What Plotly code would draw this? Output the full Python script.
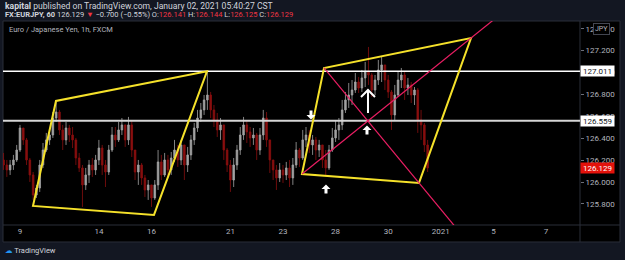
import plotly.graph_objects as go

# ---------------- data ----------------
# 3-hour candles, x in trading days from Dec 9 00:00
x_start = -0.625
x_step = 0.125

closes = [126.156, 126.111, 126.156, 126.202, 126.293, 126.494, 126.385, 126.202, 126.065, 125.882,
          125.946, 126.156, 126.293, 126.385, 126.430, 126.585, 126.640, 126.476, 126.385, 126.494,
          126.430, 126.385, 126.220, 126.129, 125.974, 126.065, 126.156, 126.111, 126.202, 126.311,
          126.156, 126.092, 126.293, 126.430, 126.385, 126.476, 126.522, 126.385, 126.522, 126.293,
          126.092, 126.156, 126.038, 125.928, 125.974, 125.855, 125.974, 126.184, 126.065, 126.202,
          126.111, 126.220, 126.293, 126.202, 126.339, 126.156, 126.248, 126.385, 126.494, 126.585,
          126.659, 126.750, 126.795, 126.659, 126.567, 126.476, 126.522, 126.293, 126.156, 126.019,
          126.156, 126.293, 126.430, 126.522, 126.458, 126.403, 126.430, 126.293, 126.430, 126.585,
          126.385, 126.202, 126.111, 126.038, 126.111, 126.065, 126.129, 126.038, 126.156, 126.293,
          126.220, 126.385, 126.430, 126.339, 126.385, 126.293, 126.339, 126.202, 126.129, 126.293,
          126.403, 126.476, 126.522, 126.659, 126.750, 126.795, 126.841, 126.914, 126.859, 126.951,
          127.006, 126.978, 126.841, 126.932, 127.024, 127.070, 126.932, 126.823, 126.613, 126.795,
          126.932, 126.978, 126.859, 126.887, 126.795, 126.841, 126.567, 126.522, 126.339, 126.129]

highs = [126.266, 126.202, 126.202, 126.248, 126.339, 126.522, 126.476, 126.403, 126.220, 126.092,
         125.974, 126.202, 126.357, 126.449, 126.494, 126.640, 126.732, 126.659, 126.522, 126.549,
         126.522, 126.503, 126.403, 126.266, 126.156, 126.129, 126.202, 126.220, 126.248, 126.385,
         126.339, 126.202, 126.339, 126.503, 126.503, 126.549, 126.585, 126.503, 126.595, 126.567,
         126.248, 126.202, 126.174, 126.065, 126.019, 125.974, 126.019, 126.293, 126.248, 126.266,
         126.248, 126.275, 126.385, 126.339, 126.385, 126.339, 126.321, 126.430, 126.540, 126.659,
         126.722, 126.795, 127.006, 126.823, 126.704, 126.631, 126.585, 126.522, 126.311, 126.202,
         126.220, 126.339, 126.503, 126.595, 126.567, 126.503, 126.494, 126.449, 126.494, 126.659,
         126.640, 126.357, 126.202, 126.156, 126.174, 126.156, 126.184, 126.202, 126.220, 126.366,
         126.311, 126.476, 126.503, 126.476, 126.430, 126.412, 126.385, 126.339, 126.293, 126.339,
         126.494, 126.567, 126.585, 126.750, 126.823, 126.905, 126.932, 126.996, 126.960, 127.024,
         127.097, 127.234, 126.996, 126.978, 127.115, 127.142, 127.070, 126.978, 126.841, 126.887,
         127.006, 127.042, 127.006, 126.951, 126.914, 126.868, 126.859, 126.659, 126.540, 126.385]

lows = [126.111, 126.047, 126.065, 126.111, 126.184, 126.275, 126.339, 126.156, 126.001, 125.837,
        125.855, 125.910, 126.129, 126.275, 126.339, 126.403, 126.549, 126.430, 126.293, 126.339,
        126.366, 126.311, 126.156, 126.092, 125.773, 125.928, 125.992, 126.047, 126.065, 126.156,
        126.065, 125.955, 126.065, 126.275, 126.321, 126.366, 126.430, 126.321, 126.339, 126.229,
        126.019, 125.974, 125.974, 125.864, 125.837, 125.773, 125.837, 125.928, 126.019, 126.047,
        126.047, 126.065, 126.184, 126.138, 126.156, 126.019, 126.092, 126.202, 126.339, 126.458,
        126.549, 126.613, 126.659, 126.585, 126.503, 126.412, 126.385, 126.202, 126.092, 125.910,
        125.955, 126.111, 126.248, 126.385, 126.357, 126.321, 126.339, 126.202, 126.248, 126.385,
        126.321, 126.083, 126.019, 125.928, 126.001, 125.992, 126.019, 125.955, 125.974, 126.129,
        126.138, 126.202, 126.321, 126.266, 126.248, 126.202, 126.229, 126.129, 126.065, 126.111,
        126.275, 126.366, 126.385, 126.476, 126.631, 126.677, 126.704, 126.814, 126.814, 126.823,
        126.868, 126.887, 126.777, 126.795, 126.887, 126.914, 126.841, 126.768, 126.476, 126.567,
        126.777, 126.859, 126.750, 126.795, 126.722, 126.704, 126.449, 126.385, 126.275, 126.092]

first_open = 126.202

# x-axis labels (trading-day positions)
date_pos = [0, 3, 5, 8, 10, 12, 14, 16, 18, 20]
date_labels = ["9", "14", "16", "21", "23", "28", "30", "2021", "5", "7"]

price_ticks = [125.8, 126.0, 126.2, 126.4, 126.6, 126.8, 127.0, 127.2, 127.4]

# horizontal levels
level_hi = 127.011
level_mid = 126.559
last_price = 126.129

# drawings (time in trading days, price)
para1_t = [0.494, 1.369, 7.110, 5.095]
para1_p = [125.782, 126.741, 127.011, 125.700]
para2_t = [10.722, 11.559, 17.148, 15.171]
para2_p = [126.074, 127.042, 127.316, 125.992]
rayA_t = [11.559, 18.85]
rayA_p = [127.042, 124.923]
rayB_t = [10.722, 21.31]
rayB_p = [126.074, 128.12]
arrows_up = [(13.194, 126.476), (11.635, 125.937)]
arrows_down = [(11.065, 126.613)]
big_arrow_tip = (13.232, 126.841)

# ---------------- figure ----------------
times = [x_start + x_step * i for i in range(len(closes))]
opens = [first_open] + closes[:-1]

UP = "#a3a3a3"
DOWN = "#8a0f0f"
FONT = "Roboto"
AXC = "#b2b5be"
BORDER = "#2a2e39"

fig = go.Figure()
fig.add_trace(go.Candlestick(
    x=times, open=opens, high=highs, low=lows, close=closes,
    increasing=dict(line=dict(color=UP, width=0.8), fillcolor=UP),
    decreasing=dict(line=dict(color=DOWN, width=0.8), fillcolor=DOWN),
    whiskerwidth=0, showlegend=False, hoverinfo="skip",
))

shapes = []
# black background of the whole chart pane incl. axes
shapes.append(dict(type="rect", xref="paper", yref="paper", x0=0, x1=1.0693, y0=-0.0833, y1=1,
                   fillcolor="#000000", line=dict(color=BORDER, width=1), layer="below"))
# separators
shapes.append(dict(type="line", xref="paper", yref="paper", x0=1, x1=1, y0=-0.0833, y1=1,
                   line=dict(color=BORDER, width=1)))
shapes.append(dict(type="line", xref="paper", yref="paper", x0=0, x1=1.0693, y0=0, y1=0,
                   line=dict(color=BORDER, width=1)))
# horizontal levels
shapes.append(dict(type="line", xref="paper", yref="y", x0=0, x1=1, y0=level_hi, y1=level_hi,
                   line=dict(color="#ffffff", width=1.5)))
shapes.append(dict(type="line", xref="paper", yref="y", x0=0, x1=1, y0=level_mid, y1=level_mid,
                   line=dict(color="#d6d6d6", width=2)))


def poly(ts, ps):
    pts = " L ".join(f"{a} {b}" for a, b in zip(ts, ps))
    return "M " + pts + " Z"


YEL = "#f5e12a"
PINK = "#e91e63"
shapes.append(dict(type="path", xref="x", yref="y", path=poly(para1_t, para1_p),
                   line=dict(color=YEL, width=2)))
shapes.append(dict(type="path", xref="x", yref="y", path=poly(para2_t, para2_p),
                   line=dict(color=YEL, width=2)))
shapes.append(dict(type="line", xref="x", yref="y", x0=rayA_t[0], x1=rayA_t[1], y0=rayA_p[0], y1=rayA_p[1],
                   line=dict(color=PINK, width=1.2)))
shapes.append(dict(type="line", xref="x", yref="y", x0=rayB_t[0], x1=rayB_t[1], y0=rayB_p[0], y1=rayB_p[1],
                   line=dict(color=PINK, width=1.2)))

UP_PATH = "M -4.5 0 L 0 4.5 L 4.5 0 L 1.5 0 L 1.5 -4.5 L -1.5 -4.5 L -1.5 0 Z"
DN_PATH = "M -4.5 0 L 0 -4.5 L 4.5 0 L 1.5 0 L 1.5 4.5 L -1.5 4.5 L -1.5 0 Z"
for (a, b) in arrows_up:
    shapes.append(dict(type="path", xref="x", yref="y", xsizemode="pixel", ysizemode="pixel",
                       xanchor=a, yanchor=b, path=UP_PATH, fillcolor="#ffffff", line=dict(width=0)))
for (a, b) in arrows_down:
    shapes.append(dict(type="path", xref="x", yref="y", xsizemode="pixel", ysizemode="pixel",
                       xanchor=a, yanchor=b, path=DN_PATH, fillcolor="#ffffff", line=dict(width=0)))
shapes.append(dict(type="path", xref="x", yref="y", xsizemode="pixel", ysizemode="pixel",
                   xanchor=big_arrow_tip[0], yanchor=big_arrow_tip[1],
                   path="M 0 0 L 0 -23 M -7 -7 L 0 0 L 7 -7",
                   fillcolor="rgba(0,0,0,0)", line=dict(color="#ffffff", width=2)))

ann = []


def pbox(price, bg, fg, prefix=""):
    ann.append(dict(xref="paper", yref="y", x=1, y=price, xanchor="left", yanchor="middle",
                    text=f"{price:.3f}", showarrow=False, bgcolor=bg, borderpad=1,
                    width=31, height=8, align="center",
                    font=dict(family=FONT, size=8, color=fg), xshift=0))


pbox(level_hi, "#ffffff", "#131722")
pbox(level_mid, "#ffffff", "#131722")
pbox(last_price, "#e3120b", "#ffffff")

ann.append(dict(xref="paper", yref="paper", x=1.038, y=0.961, xanchor="center", yanchor="middle",
                text="JPY", showarrow=False, bgcolor="#000000", bordercolor="#434651", borderwidth=1,
                borderpad=1, font=dict(family=FONT, size=7, color=AXC)))

RED = "#f23645"
ann.append(dict(xref="paper", yref="paper", x=0, y=1.0735, xanchor="left", yanchor="middle",
                text="<b>kapital</b> published on TradingView.com, January 02, 2021 05:40:27 CST",
                showarrow=False, font=dict(family=FONT, size=8.6, color="#d1d4dc")))
ann.append(dict(xref="paper", yref="paper", x=0, y=1.03, xanchor="left", yanchor="middle",
                text=("<b>FX:EURJPY, 60</b> 126.129 <span style='color:" + RED + "'>▼</span> −0.700 (−0.55%) "
                      "O:<span style='color:" + RED + "'>126.141</span> H:<span style='color:" + RED + "'>126.144</span> "
                      "L:<span style='color:" + RED + "'>126.125</span> C:<span style='color:" + RED + "'>126.129</span>"),
                showarrow=False, font=dict(family=FONT, size=7.5, color="#d1d4dc")))
ann.append(dict(xref="paper", yref="paper", x=0.007, y=0.96, xanchor="left", yanchor="middle",
                text="Euro / Japanese Yen, 1h, FXCM", showarrow=False,
                font=dict(family=FONT, size=7.5, color=AXC)))
ann.append(dict(xref="paper", yref="paper", x=0, y=-0.125, xanchor="left", yanchor="middle",
                text="<span style='color:#2196f3;font-family:DejaVu Sans'>☁</span> TradingView", showarrow=False,
                font=dict(family=FONT, size=7.5, color="#d1d4dc")))

fig.update_layout(
    width=625, height=260,
    margin=dict(l=3, r=45, t=21, b=35),
    paper_bgcolor="#131722", plot_bgcolor="#000000",
    shapes=shapes, annotations=ann,
    showlegend=False,
    font=dict(family=FONT, size=8, color=AXC),
    xaxis=dict(range=[-0.646, 21.293], rangeslider=dict(visible=False), showgrid=False, zeroline=False,
               tickmode="array", tickvals=date_pos, ticktext=date_labels, ticks="",
               tickfont=dict(family=FONT, size=8, color=AXC), fixedrange=True),
    yaxis=dict(range=[125.608, 127.471], side="right", showgrid=False, zeroline=False,
               tickmode="array", tickvals=price_ticks, ticktext=[f"{v:.3f}" for v in price_ticks],
               ticks="outside", ticklen=3, tickcolor="#6a6d78",
               tickfont=dict(family=FONT, size=8, color=AXC), fixedrange=True),
)

fig.write_html("out.html")
